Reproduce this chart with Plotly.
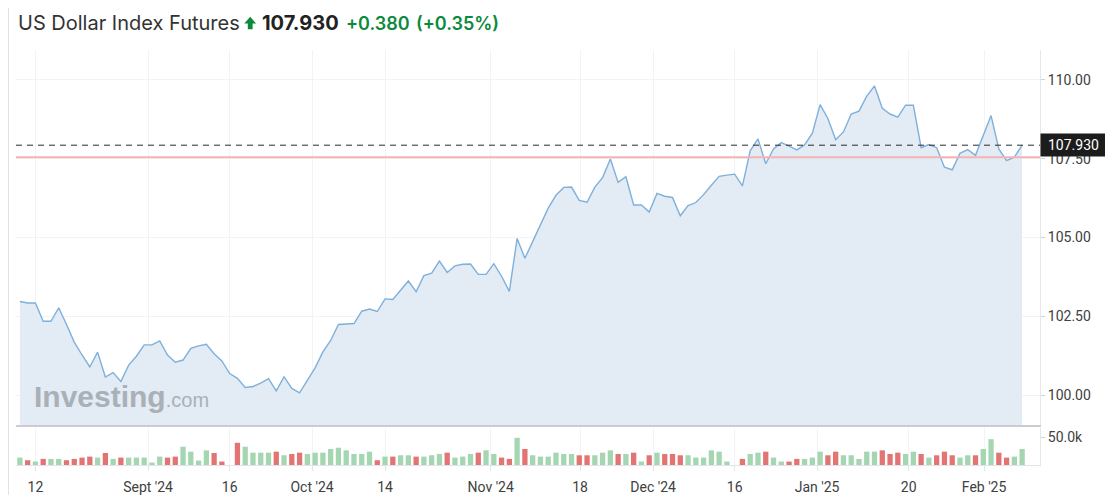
import plotly.graph_objects as go

# ---------------- data ----------------
price = [
    102.97, 102.92, 102.92, 102.34, 102.34, 102.77, 102.24, 101.68, 101.27, 100.89,
    101.36, 100.57, 100.71, 100.43, 100.95, 101.23, 101.59, 101.59, 101.72, 101.27,
    101.04, 101.11, 101.48, 101.56, 101.61, 101.31, 101.08, 100.68, 100.53, 100.24,
    100.27, 100.38, 100.52, 100.13, 100.58, 100.21, 100.07, 100.46, 100.86, 101.37,
    101.73, 102.24, 102.26, 102.27, 102.66, 102.73, 102.65, 103.05, 103.03, 103.34,
    103.62, 103.28, 103.79, 103.87, 104.25, 103.89, 104.10, 104.15, 104.16, 103.83,
    103.83, 104.17, 103.77, 103.29, 104.97, 104.34, 104.87, 105.43, 105.93, 106.34,
    106.59, 106.60, 106.18, 106.12, 106.60, 106.90, 107.49, 106.75, 106.93, 106.03,
    106.03, 105.81, 106.40, 106.31, 106.27, 105.69, 106.01, 106.11, 106.36, 106.66,
    106.94, 106.98, 107.01, 106.64, 107.75, 108.13, 107.34, 107.81, 108.01, 107.90,
    107.78, 107.94, 108.31, 109.22, 108.78, 108.10, 108.35, 108.92, 109.01, 109.49,
    109.81, 109.10, 108.92, 108.82, 109.20, 109.20, 107.85, 107.95, 107.85, 107.23,
    107.15, 107.67, 107.79, 107.61, 108.23, 108.87, 107.81, 107.44, 107.55, 107.93,
]

volume_k = [
    13.5, 8.7, 6.3, 11.1, 11.1, 11.1, 8.7, 11.1, 13.5, 15.3,
    13.5, 21.9, 11.1, 13.5, 13.5, 13.5, 13.5, 4.5, 15.3, 13.5,
    15.3, 33.3, 24.3, 8.1, 26.7, 21.9, 6.3, 0.0, 40.5, 33.3,
    22.5, 22.5, 22.5, 24.3, 17.7, 20.1, 22.5, 20.1, 22.5, 22.5,
    29.1, 31.5, 26.7, 20.1, 20.1, 24.3, 8.7, 15.3, 15.3, 17.7,
    17.7, 15.3, 15.3, 17.7, 20.1, 22.5, 13.5, 15.3, 20.1, 22.5,
    26.7, 20.1, 13.5, 11.1, 49.5, 29.1, 17.7, 15.3, 15.3, 22.5,
    20.1, 20.1, 17.7, 17.7, 17.7, 22.5, 26.7, 20.1, 20.1, 22.5,
    6.3, 17.7, 22.5, 20.1, 20.1, 17.7, 17.7, 13.5, 13.5, 26.7,
    24.3, 6.3, 0.0, 11.1, 20.1, 22.5, 24.3, 13.5, 6.3, 6.3,
    11.1, 11.1, 13.5, 24.3, 17.7, 24.3, 17.7, 17.7, 11.1, 24.3,
    24.3, 26.7, 20.1, 22.5, 20.1, 24.3, 20.1, 13.5, 17.7, 24.3,
    17.7, 13.5, 17.7, 17.7, 29.1, 47.1, 22.5, 13.5, 15.3, 29.1,
]

# 1 = green (up) bar, 0 = red (down) bar
volume_up = [
    1, 0, 1, 0, 1, 1, 0, 0, 0, 0,
    1, 0, 1, 0, 1, 1, 1, 1, 1, 0,
    0, 1, 1, 1, 1, 0, 0, 0, 0, 1,
    1, 1, 1, 0, 1, 0, 0, 1, 1, 1,
    1, 1, 1, 1, 1, 1, 0, 1, 0, 1,
    1, 0, 1, 1, 1, 0, 1, 1, 1, 0,
    1, 1, 0, 0, 1, 0, 1, 1, 1, 1,
    1, 1, 0, 0, 1, 1, 1, 0, 1, 0,
    1, 0, 1, 0, 0, 0, 1, 1, 1, 1,
    1, 1, 1, 0, 1, 1, 0, 1, 1, 0,
    0, 1, 1, 1, 0, 0, 1, 1, 1, 1,
    1, 0, 0, 0, 1, 1, 0, 1, 0, 0,
    0, 1, 1, 0, 1, 1, 0, 0, 1, 1,
]

tick_labels = ["12", "Sept '24", "16", "Oct '24", "14", "Nov '24",
               "18", "Dec '24", "16", "Jan '25", "20", "Feb '25"]
tick_pos = [2, 16.5, 27, 37.6, 47, 60.6, 72.1, 81.5, 92, 102.6, 114.4, 124.1]

last_price = 107.930
prev_close = 107.55
change = "+0.380"
change_pct = "(+0.35%)"
title_text = "US Dollar Index Futures"

# ---------------- figure ----------------
idx = list(range(len(price)))
volume = [v * 1000 for v in volume_k]
GREEN_BAR = "#a3d6b1"
RED_BAR = "#e37474"
bar_colors = [GREEN_BAR if u else RED_BAR for u in volume_up]

fig = go.Figure()
fig.add_trace(go.Scatter(
    x=idx, y=price, mode="lines",
    line=dict(color="#7fb0db", width=1.4),
    fill="tozeroy", fillcolor="#e3ebf4",
    xaxis="x", yaxis="y", hoverinfo="skip",
))
fig.add_trace(go.Bar(
    x=idx, y=volume, marker=dict(color=bar_colors, line=dict(width=0)),
    width=0.68, xaxis="x2", yaxis="y2", hoverinfo="skip",
))

GRID = "#f2f3f5"
AXFONT = dict(family="Roboto, Arial, sans-serif", size=14, color="#404040")

# the page adds an 8px body margin, so the figure is 8px smaller and the
# margins are reduced accordingly
fig.update_layout(
    width=1105, height=487,
    margin=dict(l=8, r=73, t=42, b=30),
    paper_bgcolor="white", plot_bgcolor="white",
    showlegend=False,
    xaxis=dict(domain=[0, 1], anchor="y", range=[-0.5, 131.3], automargin=False,
               tickvals=tick_pos, showticklabels=False, ticks="",
               showgrid=True, gridcolor=GRID, gridwidth=1, zeroline=False,
               showline=True, linecolor="#c9cdd2", linewidth=1.5),
    xaxis2=dict(domain=[0, 1], anchor="y2", matches="x", range=[-0.5, 131.3],
                automargin=False,
                tickvals=tick_pos, ticktext=tick_labels, tickfont=AXFONT,
                showgrid=True, gridcolor=GRID, zeroline=False,
                showline=True, linecolor="#e1e4e8", linewidth=1,
                ticks="outside", ticklen=5, tickcolor="#e1e4e8",
                ticklabelstandoff=4),
    yaxis=dict(domain=[0.0964, 1], anchor="x", side="right", automargin=False,
               range=[99.048, 110.952],
               tickvals=[100, 102.5, 105, 107.5, 110], tickformat=".2f",
               tickfont=AXFONT, showgrid=True, gridcolor=GRID, zeroline=False,
               showline=True, linecolor="#e4e7eb", linewidth=1,
               ticks="outside", ticklen=4, tickcolor="#cfd3d8"),
    yaxis2=dict(domain=[0, 0.089], anchor="x2", side="right", automargin=False,
                range=[0, 67300], tickvals=[50000], tickformat=".3s",
                tickfont=AXFONT, showgrid=False, zeroline=False,
                showline=True, linecolor="#e4e7eb", linewidth=1,
                ticks="outside", ticklen=4, tickcolor="#cfd3d8"),
)

# previous close (red) and last price (dashed) lines
fig.add_shape(type="line", xref="paper", yref="y", x0=0, x1=1,
              y0=prev_close, y1=prev_close,
              line=dict(color="#f4b4b4", width=2))
fig.add_shape(type="line", xref="paper", yref="y", x0=0, x1=1,
              y0=last_price, y1=last_price,
              line=dict(color="#2b2b2b", width=1, dash="6px,5px"))
# left container border
fig.add_shape(type="line", xref="paper", yref="paper",
              x0=-0.0073, x1=-0.0073, y0=-0.072, y1=1.101,
              line=dict(color="#e2e2e2", width=1))

# last price tag on the axis
fig.add_annotation(xref="paper", yref="y", x=1, y=last_price,
                   xanchor="left", yanchor="middle", showarrow=False,
                   text=f"{last_price:.3f}", bgcolor="#1c1c1c",
                   font=dict(family="Roboto, Arial, sans-serif", size=14, color="white"),
                   width=63, height=20, borderpad=1, align="center")

# title row
TY = 1.065
GREEN_TXT = "#0b8a3d"
fig.add_annotation(xref="paper", yref="paper", x=0.0, y=TY, xanchor="left", yanchor="middle",
                   showarrow=False, text=title_text,
                   font=dict(family="Inter, Roboto, sans-serif", size=20, color="#333333"))


def px_x(px):
    return (px - 16) / 1024


def px_y(py):
    return (465 - py) / 415


# filled up-arrow glyph next to the price
arrow_path = (
    f"M {px_x(244.3)} {px_y(23.5)} L {px_x(250.2)} {px_y(16.8)} L {px_x(256.1)} {px_y(23.5)} "
    f"L {px_x(252.6)} {px_y(23.5)} L {px_x(252.6)} {px_y(29.3)} L {px_x(247.8)} {px_y(29.3)} "
    f"L {px_x(247.8)} {px_y(23.5)} Z"
)
fig.add_shape(type="path", xref="paper", yref="paper", path=arrow_path,
              fillcolor=GREEN_TXT, line=dict(width=0))

fig.add_annotation(xref="paper", yref="paper", x=0.2387, y=TY, xanchor="left", yanchor="middle",
                   showarrow=False, text=f"<b>{last_price:.3f}</b>",
                   font=dict(family="Inter, Roboto, sans-serif", size=20, color="#222222"))
fig.add_annotation(xref="paper", yref="paper", x=0.3199, y=TY, xanchor="left", yanchor="middle",
                   showarrow=False, text=change,
                   font=dict(family="Inter, Roboto, sans-serif", size=18, color=GREEN_TXT, weight=600))
fig.add_annotation(xref="paper", yref="paper", x=0.3883, y=TY, xanchor="left", yanchor="middle",
                   showarrow=False, text=change_pct,
                   font=dict(family="Inter, Roboto, sans-serif", size=18, color=GREEN_TXT, weight=600))

# watermark (one text, smaller ".com")
fig.add_annotation(xref="paper", yref="paper", x=0.0156, y=0.166, xanchor="left", yanchor="middle",
                   showarrow=False,
                   text="<b>Investing</b><span style='font-size:20px'>.com</span>",
                   font=dict(family="Liberation Sans, Arial, sans-serif", size=30, color="#aab0b7"))

fig.write_html("out.html")
